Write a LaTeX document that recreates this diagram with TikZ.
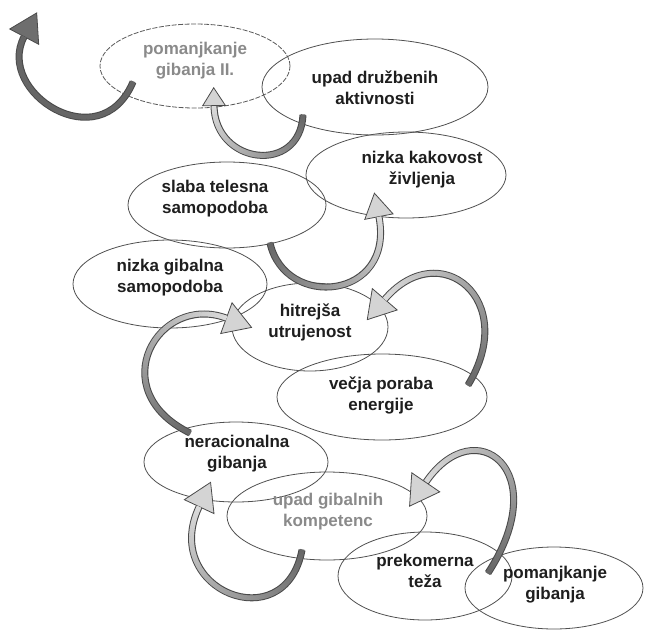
\documentclass[tikz,border=0pt]{standalone}
\usepackage{fontspec}
\setmainfont{Liberation Sans}
\usetikzlibrary{arrows.meta,calc,decorations.markings,shapes.geometric}

\definecolor{edge}{HTML}{505050}
\definecolor{dashedge}{HTML}{5A5A5A}
\definecolor{txtdark}{HTML}{1E1E1E}
\definecolor{txtgray}{HTML}{8A8A8A}
\definecolor{shaftdark}{HTML}{666666}
\definecolor{shaftlight}{HTML}{DCDCDC}
\definecolor{rim}{HTML}{4A4A4A}
\definecolor{headfill}{HTML}{D4D4D4}
\definecolor{headdark}{HTML}{6E6E6E}

\tikzset{
  bubble/.style={ellipse, draw=edge, line width=0.8pt, inner sep=0pt},
  dashbubble/.style={bubble, draw=dashedge, dash pattern=on 5pt off 1.5pt},
  lbl/.style={align=center, font=\fontsize{17}{21}\selectfont\bfseries, text=txtdark, inner sep=0pt},
  lblgray/.style={lbl, text=txtgray},
}

% #1 start, #2 c1, #3 c2, #4 end (base of head), #5 head length, #6 head width,
% #7 head fill, #8 tail colour, #9 head-side colour
\newcommand{\bandarrow}[9]{%
  \draw[line width=7pt, draw=rim, shorten >=-#5pt,
        -{Triangle[length=#5pt 0 0, width=#6pt 0 0, color=rim, fill=#7, line width=0.8pt]}]
    (#1) .. controls (#2) and (#3) .. (#4);
  \path[decorate, decoration={markings, mark=between positions 0 and 0.995 step 0.9pt with {%
      \pgfmathsetmacro\shadepct{(\pgfkeysvalueof{/pgf/decoration/mark info/distance from start}/\pgfdecoratedpathlength)*100}%
      \fill[#9!\shadepct!#8] (-0.7pt,-2.4pt) rectangle (0.7pt,2.4pt);}}]
    (#1) .. controls (#2) and (#3) .. (#4);
}

\begin{document}
\begin{tikzpicture}[x=1pt,y=-1pt]
\useasboundingbox (0,0) rectangle (667,630);

% ellipses
\node[dashbubble, minimum width=190pt, minimum height=84pt] (e1) at (195,66) {};
\node[bubble, minimum width=226pt, minimum height=96pt] (e2) at (375,87) {};
\node[bubble, minimum width=200pt, minimum height=86pt] (e3) at (406,175) {};
\node[bubble, minimum width=198pt, minimum height=86pt] (e4) at (227,205) {};
\node[bubble, minimum width=194pt, minimum height=88pt] (e5) at (170,284) {};
\node[bubble, minimum width=156pt, minimum height=88pt] (e6) at (310,327) {};
\node[bubble, minimum width=210pt, minimum height=86pt] (e7) at (382,397) {};
\node[bubble, minimum width=184pt, minimum height=80pt] (e8) at (236,462) {};
\node[bubble, minimum width=200pt, minimum height=88pt] (e9) at (327,516) {};
\node[bubble, minimum width=174pt, minimum height=88pt] (e10) at (425,576) {};
\node[bubble, minimum width=178pt, minimum height=82pt] (e11) at (554,588) {};

% arrow end points
\coordinate (a1s) at ($(e1)+(-62,16)$);
\coordinate (a1e) at (24,37);
\coordinate (a2s) at ($(e2)+(-72,28)$);
\coordinate (a2e) at ($(e1)+(19,40)$);
\coordinate (a3s) at ($(e4)+(43,38)$);
\coordinate (a3e) at ($(e3)+(-27,42)$);
\coordinate (a4s) at ($(e7)+(86,-12)$);
\coordinate (a4e) at ($(e6)+(75,-28)$);
\coordinate (a5s) at ($(e8)+(-46,-29)$);
\coordinate (a5e) at ($(e6)+(-84,-9)$);
\coordinate (a6s) at ($(e11)+(-66,-15)$);
\coordinate (a6e) at ($(e9)+(99,-34)$);
\coordinate (a7s) at ($(e9)+(-25,34)$);
\coordinate (a7e) at ($(e8)+(-37,45)$);

% arrows
\bandarrow{a1s}{100,160}{-5,92}{a1e}{28}{34}{headdark}{shaftdark}{shaftdark}
\bandarrow{a2s}{300,175}{215,165}{a2e}{19}{24}{headfill}{shaftdark}{shaftlight}
\bandarrow{a3s}{285,310}{395,300}{a3e}{25}{30}{headfill}{shaftdark}{shaftlight}
\bandarrow{a4s}{520,300}{440,235}{a4e}{28}{34}{headfill}{shaftdark}{shaftlight}
\bandarrow{a5s}{102,390}{158,293}{a5e}{28}{34}{headfill}{shaftdark}{shaftlight}
\bandarrow{a6s}{555,470}{475,410}{a6e}{30}{35}{headfill}{shaftdark}{shaftlight}
\bandarrow{a7s}{285,640}{160,590}{a7e}{28}{34}{headfill}{shaftdark}{shaftlight}

% texts
\node[lblgray] (t1) at (195,61) {pomanjkanje\\gibanja II.};
\node[lbl] (t2) at (375,88) {upad družbenih\\aktivnosti};
\node[lbl] (t3) at (422,170) {nizka kakovost\\življenja};
\node[lbl] (t4) at (215,199) {slaba telesna\\samopodoba};
\node[lbl] (t5) at (170,278) {nizka gibalna\\samopodoba};
\node[lbl] (t6) at (310,322) {hitrejša\\utrujenost};
\node[lbl] (t7) at (381,395) {večja poraba\\energije};
\node[lbl] (t8) at (237,454) {neracionalna\\gibanja};
\node[lblgray] (t9) at (328,512) {upad gibalnih\\kompetenc};
\node[lbl] (t10) at (425,571) {prekomerna\\teža};
\node[lbl] (t11) at (555,585) {pomanjkanje\\gibanja};
\end{tikzpicture}
\end{document}
